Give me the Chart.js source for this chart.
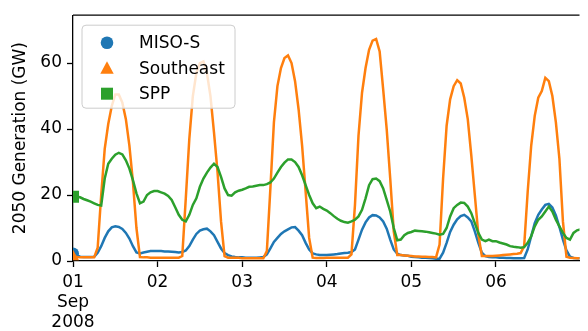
<!DOCTYPE html>
<html>
<head>
<meta charset="utf-8">
<script src="https://cdn.jsdelivr.net/npm/chart.js@4.4.1/dist/chart.umd.min.js"></script>
<style>
  html, body { margin: 0; padding: 0; background: #fff; }
  canvas { display: block; }
</style>
</head>
<body>
<canvas id="chart" width="588" height="331"></canvas>
<script>
// hourly values starting 2008-09-01 00:00
const hours = Array.from({ length: 145 }, (_, i) => i)

const misoS = [
  2.3, 1.8, 1.3, 1.2, 1.2, 1.2, 1.3, 2.5, 4.5, 7, 9, 10.2, 10.5, 10.3, 9.7, 8.5, 6.8, 4.5, 2.6, 2.3, 2.6, 2.8, 3, 3,
  3, 3, 2.9, 2.9, 2.8, 2.7, 2.6, 2.7, 3.2, 4.5, 6.5, 8.2, 9.2, 9.6, 9.8, 9, 7.8, 5.8, 3.8, 2.4, 1.8, 1.4, 1.2, 1.1,
  1.1, 1, 1, 1, 1, 1.1, 1.2, 2, 3.8, 5.8, 7, 8.2, 9, 9.6, 10.2, 10.3, 9.2, 7.8, 5.5, 3.5, 2.3, 2, 1.8, 1.8,
  1.8, 1.9, 2, 2.1, 2.3, 2.4, 2.5, 2.7, 3.5, 6.5, 9.5, 11.7, 13.2, 13.9, 13.8, 13.2, 12, 9.8, 6.5, 3.5, 2.2, 1.8, 1.7, 1.6,
  1.3, 1.2, 1.1, 1, 1, 0.9, 0.8, 0.7, 0.7, 2.5, 5.5, 8.8, 11, 12.6, 13.6, 14, 13.2, 12, 9, 5.5, 2.5, 1.5, 1.2, 1.1,
  1.1, 1, 1, 0.9, 0.9, 0.8, 0.8, 0.8, 0.9, 3.5, 7.5, 11.5, 14, 15.6, 17, 17.3, 16.2, 13.8, 10.3, 6.5, 3.2, 1.3, 0.9, 0.8, 0.8
]
const southeast = [
  1.3, 1.2, 1.1, 1.1, 1.1, 1.1, 1.1, 4, 20, 34, 41.5, 47, 50.5, 50.5, 48, 43, 35, 24, 10, 1.2, 1.1, 1.1, 1, 1,
  1, 1, 1, 1, 1, 1, 1, 1.5, 19, 37, 50, 57, 60, 60.5, 57, 50, 39, 27, 12, 1.5, 1, 1, 1, 1,
  0.8, 0.8, 0.8, 0.8, 0.8, 0.8, 0.8, 3, 22, 42, 53, 58.5, 61.5, 62.3, 60, 54.5, 46, 35, 21, 7, 1, 0.9, 0.9, 0.9,
  1, 1, 1, 1, 1, 1, 1, 2, 17, 38, 51, 58.5, 64, 66.8, 67.3, 63.5, 52, 40, 25, 9, 1.8, 1.8, 1.7, 1.6,
  1.5, 1.4, 1.4, 1.3, 1.3, 1.2, 1.2, 1.1, 5, 25, 41, 49, 53, 54.8, 53.8, 49.5, 43, 32, 20, 8, 1.5, 1.5, 1.5, 1.5,
  1.6, 1.7, 1.8, 1.9, 2, 2.1, 2.2, 2.4, 4.5, 21, 35, 44, 49.5, 51.5, 55.5, 54.5, 50, 42, 31, 12, 1.3, 1, 0.9, 0.8, 0.8
]
const spp = [
  19.5, 19.5, 19.3, 18.8, 18.4, 18, 17.5, 17, 16.8, 25, 29.5, 31, 32.2, 32.8, 32.3, 30.5, 28, 24.5, 20.5, 17.5, 18, 20, 20.8, 21.2,
  21.2, 20.8, 20.4, 19.7, 18.5, 16.3, 14, 12.5, 12, 14, 17, 19, 22.5, 25, 26.8, 28.3, 29.5, 28.5, 25.5, 22, 20, 19.8, 20.8, 21.3,
  21.6, 22, 22.5, 22.6, 22.8, 23, 23, 23.3, 23.8, 25, 26.8, 28.5, 29.8, 30.8, 30.8, 30, 28.5, 26, 23, 20, 17.5, 16, 16.5, 15.8,
  15.3, 14.5, 13.6, 12.8, 12.2, 11.8, 11.6, 12, 12.5, 13.5, 15.5, 19, 23, 24.8, 25, 24.2, 22, 18.5, 15, 10, 6.3, 6.5, 7.8, 8.5,
  8.8, 9.2, 9.1, 9, 8.9, 8.7, 8.5, 8.3, 8, 8.2, 10, 13.5, 16, 17, 17.7, 17.6, 16.5, 14.5, 11.5, 8.5, 6.5, 6, 6.5, 6,
  6, 5.6, 5.3, 5, 4.5, 4.3, 4.2, 4, 4.2, 5.5, 7.5, 10.5, 12.5, 13.5, 15, 16.5, 15, 12.5, 10.5, 8.5, 7, 6.5, 8.5, 9.3, 9.6
]

const tickHours = [0, 24, 48, 72, 96, 120]
const tickLabels = [['01', 'Sep', '2008'], '02', '03', '04', '05', '06']
const yTicks = [0, 20, 40, 60]

const seriesNames = ['MISO-S', 'Southeast', 'SPP']
const colors = ['#1f77b4', '#ff7f0e', '#2ca02c']
const markers = ['circle', 'triangle', 'rect']

Chart.defaults.font.family = '"DejaVu Sans", sans-serif'
Chart.defaults.font.size = 17
Chart.defaults.color = '#000'

function firstOnly(r) {
  return ctx => ctx.dataIndex === 0 ? r : 0
}

function drawMarker(ctx, kind, x, y) {
  ctx.beginPath()
  if (kind === 'circle') {
    ctx.arc(x, y, 6.3, 0, Math.PI * 2)
  } else if (kind === 'triangle') {
    ctx.moveTo(x, y - 7)
    ctx.lineTo(x + 6.7, y + 5.5)
    ctx.lineTo(x - 6.7, y + 5.5)
    ctx.closePath()
  } else {
    ctx.rect(x - 6, y - 6, 12, 12)
  }
  ctx.fill()
}

// matplotlib style legend box drawn inside the axes, plus the top spine
const frameAndLegend = {
  id: 'frameAndLegend',
  afterDatasetsDraw(chart) {
    const ctx = chart.ctx
    const a = chart.chartArea
    ctx.save()
    ctx.strokeStyle = '#000'
    ctx.lineWidth = 1.3
    ctx.beginPath()
    ctx.moveTo(a.left, a.top)
    ctx.lineTo(a.right, a.top)
    ctx.stroke()

    const x = a.left + 9, y = a.top + 10, w = 153, h = 83
    ctx.beginPath()
    ctx.roundRect(x, y, w, h, 4)
    ctx.fillStyle = 'rgba(255,255,255,0.8)'
    ctx.fill()
    ctx.strokeStyle = '#cccccc'
    ctx.lineWidth = 1
    ctx.stroke()

    ctx.font = '17px "DejaVu Sans"'
    ctx.textBaseline = 'middle'
    seriesNames.forEach((name, i) => {
      const cy = y + 17.5 + i * 25.5
      ctx.fillStyle = colors[i]
      drawMarker(ctx, markers[i], x + 25, cy)
      ctx.fillStyle = '#000'
      ctx.fillText(name, x + 57, cy + 1)
    })
    ctx.restore()
  }
}

const seriesData = [misoS, southeast, spp]
const drawOrder = [3, 2, 1]
const markerRadius = [6, 7, 8.5]

new Chart(document.getElementById('chart'), {
  type: 'line',
  data: {
    labels: hours,
    datasets: seriesNames.map((name, i) => ({
      label: name,
      data: seriesData[i],
      borderColor: colors[i],
      backgroundColor: colors[i],
      borderWidth: 2.5,
      tension: 0,
      pointStyle: markers[i],
      pointRadius: firstOnly(markerRadius[i]),
      pointBorderWidth: 0,
      pointHoverRadius: 0,
      order: drawOrder[i],
      clip: 0
    }))
  },
  options: {
    responsive: false,
    devicePixelRatio: 1,
    animation: false,
    events: [],
    layout: { padding: { top: 4, left: 0, right: 0, bottom: 0 } },
    plugins: {
      legend: { display: false },
      tooltip: { enabled: false }
    },
    scales: {
      x: {
        type: 'linear',
        min: 0,
        max: 143.7,
        afterFit: s => { s.height = 70 },
        afterBuildTicks: s => { s.ticks = tickHours.map(v => ({ value: v })) },
        grid: { drawOnChartArea: false, color: '#000', tickLength: 6, tickWidth: 1.3 },
        border: { display: true, color: '#000', width: 1.3 },
        ticks: {
          autoSkip: false,
          maxRotation: 0,
          padding: 5,
          callback: v => tickLabels[tickHours.indexOf(v)]
        }
      },
      y: {
        min: 0,
        max: 74.5,
        afterFit: s => { s.width = 73 },
        afterBuildTicks: s => { s.ticks = yTicks.map(v => ({ value: v })) },
        grid: { drawOnChartArea: false, color: '#000', tickLength: 6, tickWidth: 1.3 },
        border: { display: true, color: '#000', width: 1.3 },
        ticks: { padding: 5 },
        title: {
          display: true,
          text: '2050 Generation (GW)',
          padding: { top: 10, bottom: 0 }
        }
      }
    }
  },
  plugins: [frameAndLegend]
})
</script>
</body>
</html>
